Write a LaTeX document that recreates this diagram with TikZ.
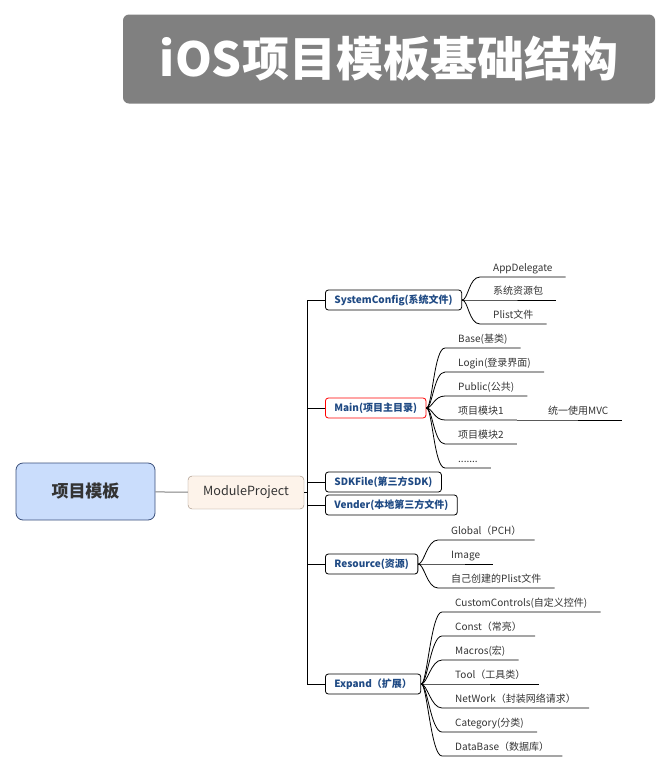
\documentclass[tikz,border=0pt]{standalone}
\usepackage{fontspec}
\setmainfont{Noto Sans CJK SC}
\definecolor{titlegray}{HTML}{808080}
\definecolor{rootfill}{HTML}{CADDFC}
\definecolor{rootline}{HTML}{3A4F7A}
\definecolor{mpfill}{HTML}{FDF3EA}
\definecolor{mpline}{HTML}{9C8878}
\definecolor{dirblue}{HTML}{1F4A84}
\definecolor{leafgray}{HTML}{333333}
\newcommand\moredots{.......}
\begin{document}
\begin{tikzpicture}[x=1pt,y=-1pt,
    box/.style={draw,rounded corners=3pt,fill=white,anchor=west,minimum height=20pt,
      inner xsep=9pt,inner ysep=0pt,line width=.8pt,text=dirblue,
      font=\fontsize{10}{12}\selectfont\bfseries},
    leaf/.style={anchor=south west,inner xsep=13pt,inner ysep=3.5pt,text height=8pt,
      text depth=2pt,text=leafgray,font=\fontsize{10}{12}\selectfont},
    link/.style={line width=.8pt},
    branch/.style={out=0,in=180,out distance=6pt,in distance=11pt}]
  \useasboundingbox (0,0) rectangle (671,772);
  % title
  \node[fill=titlegray,rounded corners=6pt,minimum width=532pt,minimum height=89pt,
    text=white,font=\fontsize{47}{54}\selectfont\bfseries] (title) at (389,59) {iOS项目模板基础结构};
  % root and project
  \node[draw=rootline,fill=rootfill,rounded corners=7pt,minimum width=139pt,minimum height=57pt,
    line width=.8pt,text=leafgray,font=\fontsize{17}{20}\selectfont\bfseries] (root) at (85.5,491.5) {项目模板};
  \node[draw=mpline,fill=mpfill,rounded corners=4pt,minimum width=116pt,minimum height=33pt,
    text=leafgray,font=\fontsize{12.6}{14}\selectfont] (mp) at (246,492.5) {ModuleProject};
  \draw[gray,line width=1pt] (root) -- (mp);
  \coordinate (trunk) at (307,492.5);
  % directories
  \node[box] (sys) at (325,300) {SystemConfig(系统文件)};
  \node[box,draw=red] (main) at (325,408) {Main(项目主目录)};
  \node[box] (sdk) at (325,482) {SDKFile(第三方SDK)};
  \node[box] (vender) at (325,505) {Vender(本地第三方文件)};
  \node[box] (res) at (325,564) {Resource(资源)};
  \node[box] (exp) at (325,684) {Expand（扩展）};
  \draw[link] (mp.east) -- (trunk);
  \draw[link] (trunk |- sys.west) -- (trunk |- exp.west);
  \foreach \c in {sys,main,sdk,vender,res,exp}
    \draw[link] (trunk |- \c.west) -- (\c.west);
  % leaves
  \foreach \n/\y/\t in {s1/277/AppDelegate,s2/300/系统资源包,s3/324/Plist文件}{
    \node[leaf] (\n) at (480,\y) {\t};
    \draw[link] (sys.east) to[branch] (\n.south west) -- (\n.south east);
  }
  \foreach \n/\y/\t in {m1/348/Base(基类),m2/372/Login(登录界面),m3/396/Public(公共),
      m4/420/项目模块1,m5/444/项目模块2,m6/468/\moredots}{
    \node[leaf] (\n) at (445,\y) {\t};
    \draw[link] (main.east) to[branch] (\n.south west) -- (\n.south east);
  }
  \node[leaf] (mvc) at (535,420) {统一使用MVC};
  \draw[link] (m4.south east) -- (mvc.south west) -- (mvc.south east);
  \foreach \n/\y/\t in {r1/540/Global（PCH）,r2/564/Image,r3/588/自己创建的Plist文件}{
    \node[leaf] (\n) at (438,\y) {\t};
    \draw[link] (res.east) to[branch] (\n.south west) -- (\n.south east);
  }
  \foreach \n/\y/\t in {e1/612/CustomControls(自定义控件),e2/636/Const（常亮）,e3/660/Macros(宏),
      e4/684/Tool（工具类）,e5/708/NetWork（封装网络请求）,e6/732/Category(分类),
      e7/756/DataBase（数据库）}{
    \node[leaf] (\n) at (442,\y) {\t};
    \draw[link] (exp.east) to[branch] (\n.south west) -- (\n.south east);
  }
\end{tikzpicture}
\end{document}
